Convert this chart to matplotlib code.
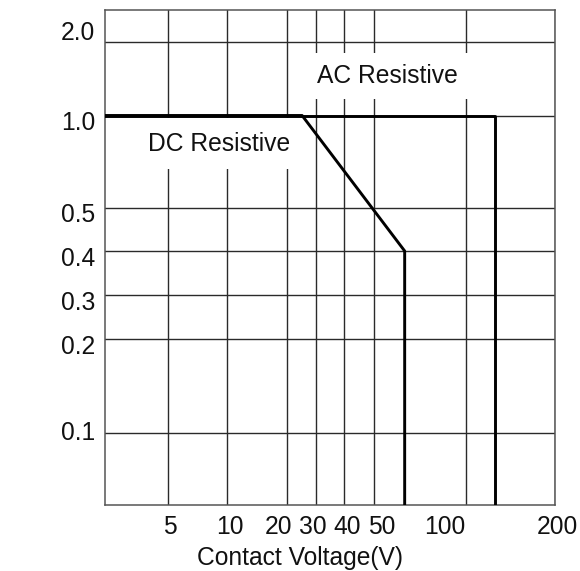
import numpy as np
import matplotlib
matplotlib.use("Agg")
import matplotlib.pyplot as plt
import matplotlib.transforms as mtransforms

plt.rcParams['font.family'] = ['Liberation Sans', 'DejaVu Sans']

# --- data ---
x_ticks = [5, 10, 20, 30, 40, 50, 100, 200]
x_labels = ["5", "10", "20", "30", "40", "50", "100", "200"]
y_ticks = [0.1, 0.2, 0.3, 0.4, 0.5, 1.0, 2.0]
y_labels = ["0.1", "0.2", "0.3", "0.4", "0.5", "1.0", "2.0"]

x_min, x_max = 2.4, 200
y_min, y_max = 0.058, 2.7

ac_voltage = [x_min, 125, 125]
ac_current = [1.0, 1.0, y_min]
dc_voltage = [x_min, 24.7, 63, 63]
dc_current = [1.0, 1.0, 0.4, y_min]

# --- the printed axes are not a clean log scale, so map the grid
#     values onto where they sit on the sheet (pixels) ---
x_anchor_val = [x_min, 5, 10, 20, 30, 40, 50, 100, x_max]
x_anchor_pix = [105, 168, 227, 287, 316, 344, 374, 466, 555]
y_anchor_val = [y_min, 0.1, 0.2, 0.3, 0.4, 0.5, 1.0, 2.0, y_max]
y_anchor_pix = [0, 72.5, 166, 210, 254, 297.5, 389.5, 463, 495]


def make_scale(vals, pix):
    lv = np.log(np.array(vals, dtype=float))
    pix = np.array(pix, dtype=float)

    def fwd(v):
        v = np.asarray(v, dtype=float)
        return np.interp(np.log(np.clip(v, 1e-9, None)), lv, pix)

    def inv(p):
        return np.exp(np.interp(np.asarray(p, dtype=float), pix, lv))
    return fwd, inv


fig = plt.figure(figsize=(5.8, 5.71), dpi=100)
ax = fig.add_axes([105 / 580, 1 - 505 / 571, 450 / 580, 495 / 571])

ax.set_xscale('function', functions=make_scale(x_anchor_val, x_anchor_pix))
ax.set_yscale('function', functions=make_scale(y_anchor_val, y_anchor_pix))
ax.set_xlim(x_min, x_max)
ax.set_ylim(y_min, y_max)

fs = 17.7
ax.set_xticks(x_ticks)
ax.set_xticklabels(x_labels)
ax.set_yticks(y_ticks)
ax.set_yticklabels(y_labels)
ax.minorticks_off()
ax.tick_params(length=0, labelsize=fs, colors='#111111')
ax.tick_params(axis='x', pad=7)
ax.tick_params(axis='y', pad=7)
ax.grid(True, color='#2a2a2a', linewidth=1.0, zorder=1)
ax.set_axisbelow(True)

# labels on the sheet are nudged off their grid lines
x_shift = [2, 3, -8, -3, 3, 8, -21, 2]
y_shift = [2, -5, -5, -5, -5, -5, 11]
for lab, dx in zip(ax.get_xticklabels(), x_shift):
    lab.set_transform(lab.get_transform() +
                      mtransforms.ScaledTranslation(dx / 100, 0, fig.dpi_scale_trans))
for lab, dy in zip(ax.get_yticklabels(), y_shift):
    lab.set_transform(lab.get_transform() +
                      mtransforms.ScaledTranslation(0, dy / 100, fig.dpi_scale_trans))

for s in ax.spines.values():
    s.set_color('#555555')
    s.set_linewidth(1.1)

ax.plot(ac_voltage, ac_current, color='black', linewidth=2.1, zorder=4)
ax.plot(dc_voltage, dc_current, color='black', linewidth=2.1, zorder=4)

ax.text(0.627, 0.867, "AC Resistive", transform=ax.transAxes, fontsize=fs,
        ha='center', va='center', zorder=3, color='#111111',
        bbox=dict(facecolor='white', edgecolor='none', pad=8))
ax.text(0.253, 0.730, "DC Resistive", transform=ax.transAxes, fontsize=fs,
        ha='center', va='center', zorder=3, color='#111111',
        bbox=dict(facecolor='white', edgecolor='none', pad=10))

ax.set_xlabel("Contact Voltage(V)", fontsize=fs, color='#111111')
ax.xaxis.set_label_coords(195 / 450, -0.083)

fig.savefig("out.png", dpi=100)
